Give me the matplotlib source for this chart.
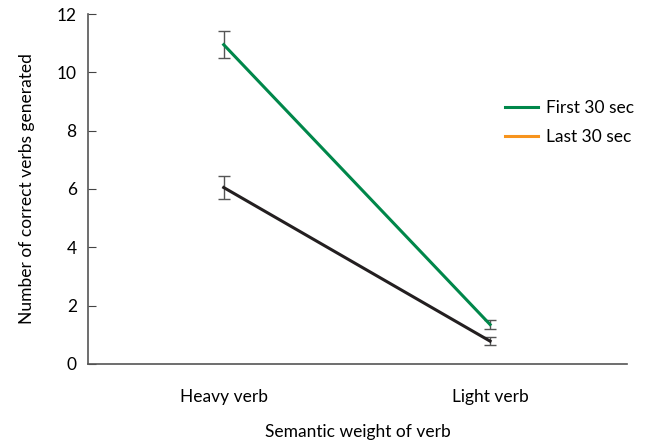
import matplotlib as mpl
mpl.use('Agg')
import matplotlib.pyplot as plt

categories = ['Heavy verb', 'Light verb']
first_30 = [10.95, 1.35]
first_30_err = [0.47, 0.15]
last_30 = [6.05, 0.78]
last_30_err = [0.38, 0.14]

plt.rcParams['font.family'] = ['Lato', 'DejaVu Sans']

fig = plt.figure(figsize=(6.46, 4.4), dpi=100)
ax = fig.add_axes([0.136, 0.173, 0.835, 0.795])

x = range(len(categories))
ax.errorbar(x, first_30, yerr=first_30_err, color='#00874a', lw=2.2,
            ecolor='#555555', elinewidth=1, capsize=4, capthick=1, zorder=3)
ax.errorbar(x, last_30, yerr=last_30_err, color='#231f20', lw=2.2,
            ecolor='#555555', elinewidth=1, capsize=4, capthick=1, zorder=3)

# legend shows orange for the second series as in the original figure
h1, = ax.plot([], [], color='#00874a', lw=2.2, label='First 30 sec')
h2, = ax.plot([], [], color='#f7941d', lw=2.2, label='Last 30 sec')
ax.legend(handles=[h1, h2], frameon=False, fontsize=12.5, loc='upper left',
          bbox_to_anchor=(0.745, 0.80), handlelength=1.9, handletextpad=0.45,
          labelspacing=0.75)

ax.set_xlim(-0.51, 1.515)
ax.set_ylim(0, 12)
ax.set_yticks([0, 2, 4, 6, 8, 10, 12])
ax.set_xticks(list(x))
ax.set_xticklabels(categories, fontsize=12.5)
ax.tick_params(axis='y', direction='in', length=6, color='#444444', labelsize=12.5, pad=8)
ax.tick_params(axis='x', length=0, pad=18)
ax.spines['top'].set_visible(False)
ax.spines['right'].set_visible(False)
for s in ['left', 'bottom']:
    ax.spines[s].set_color('#555555')
    ax.spines[s].set_linewidth(1.2)

ax.set_xlabel('Semantic weight of verb', fontsize=12.5, labelpad=14)
ax.set_ylabel('Number of correct verbs generated', fontsize=12.5, labelpad=16)

plt.savefig('out.png')
